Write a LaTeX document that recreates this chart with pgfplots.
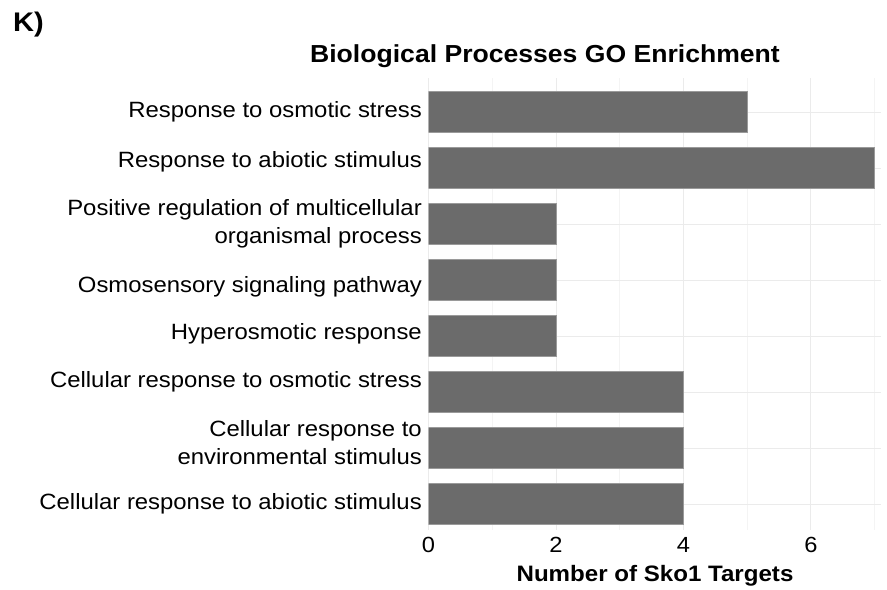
\documentclass[border=0pt]{standalone}
\usepackage{fontspec}
\setmainfont{Liberation Sans}[FakeStretch=1.08]
\usepackage{pgfplots}
\pgfplotsset{compat=1.18}
\definecolor{barfill}{HTML}{6B6B6B}
\definecolor{baredge}{HTML}{9A9A9A}
\definecolor{gridc}{HTML}{EBEBEB}
\definecolor{gridm}{HTML}{F4F4F4}
\begin{document}
\begin{tikzpicture}[x=1bp,y=1bp]
\useasboundingbox (0,0) rectangle (887,590);
\begin{axis}[
  at={(428.5bp,60bp)}, anchor=south west,
  scale only axis, width=452.5bp, height=452bp,
  xmin=0, xmax=7.1, ymin=0.536, ymax=8.607,
  xbar, bar width=41bp,
  axis line style={draw=none},
  tick style={draw=none},
  major tick length=0pt, minor tick length=0pt,
  xtick={0,2,4,6}, minor xtick={1,3,5,7},
  ytick={1.0,2.095,3.18,4.045,4.875,6.0,7.11,8.0},
  yticklabels={
    Cellular response to abiotic stimulus,
    {Cellular response to\\environmental stimulus},
    Cellular response to osmotic stress,
    Hyperosmotic response,
    Osmosensory signaling pathway,
    {Positive regulation of multicellular\\organismal process},
    Response to abiotic stimulus,
    Response to osmotic stress},
  extra y ticks={1,2,3,4,5,6,7,8},
  extra y tick labels={},
  extra y tick style={grid=major},
  xmajorgrids, xminorgrids, ymajorgrids=false,
  major grid style={draw=gridc, line width=0.9bp},
  minor grid style={draw=gridm, line width=0.7bp},
  yticklabel style={align=right, font=\fontsize{22.2}{28}\selectfont, inner sep=0pt, xshift=-6.5bp},
  xticklabel style={font=\fontsize{22}{25}\selectfont, inner sep=0pt, yshift=-7bp},
  /pgf/number format/assume math mode=true,
]
\addplot[fill=barfill, draw=baredge, line width=0.8bp] coordinates {(4,1) (4,2) (4,3) (2,4) (2,5) (2,6) (7,7) (5,8)};
\end{axis}
\node[anchor=base, font=\bfseries\fontsize{24.7}{28}\selectfont, inner sep=0pt] at (545,527) {Biological Processes GO Enrichment};
\node[anchor=base, font=\bfseries\fontsize{22.4}{25}\selectfont, inner sep=0pt] at (655,8) {Number of Sko1 Targets};
\node[anchor=base west, font=\bfseries\fontsize{27}{30}\selectfont, inner sep=0pt] at (13,558) {K)};
\end{tikzpicture}
\end{document}
